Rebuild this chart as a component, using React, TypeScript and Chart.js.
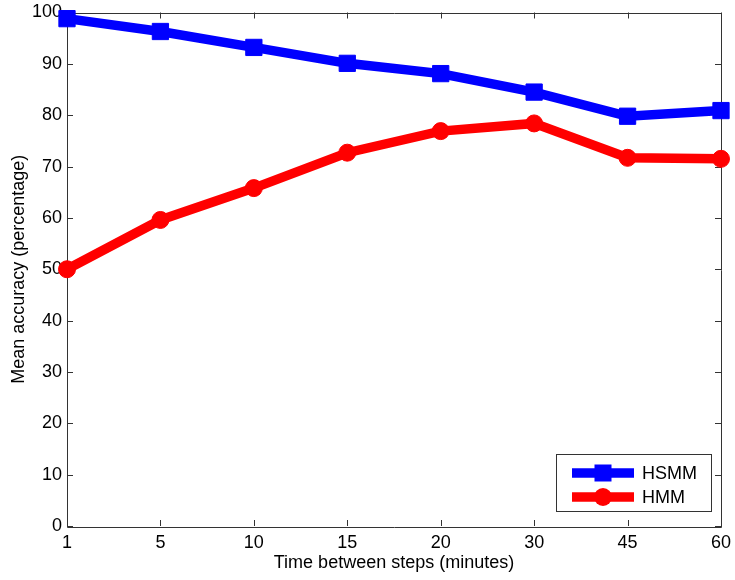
import React, { useEffect, useRef } from 'react';
import { Chart, registerables } from 'chart.js';

Chart.register(...registerables);

const categories = ['1', '5', '10', '15', '20', '30', '45', '60'];
const hsmmValues = [98.8, 96.3, 93.2, 90.1, 88.1, 84.5, 79.8, 80.9];
const hmmValues = [50.0, 59.6, 65.8, 72.7, 76.9, 78.4, 71.7, 71.5];
const seriesNames = ['HSMM', 'HMM'];
const xTitle = 'Time between steps (minutes)';
const yTitle = 'Mean accuracy (percentage)';

const FONT = "'Liberation Sans', Arial, Helvetica, sans-serif";
const AXIS = '#333333';
const BLUE = '#0000ff';
const RED = '#ff0000';

const matlabAxes = {
  id: 'matlabAxes',
  beforeDatasetsDraw(chart: any) {
    const { ctx, chartArea } = chart;
    const { left, right, top, bottom } = chartArea;
    const xs = chart.scales.x;
    const ys = chart.scales.y;
    const tl = 6;
    ctx.save();
    ctx.strokeStyle = AXIS;
    ctx.lineWidth = 1;
    ctx.beginPath();
    ctx.rect(Math.round(left) + 0.5, Math.round(top) + 0.5, Math.round(right - left), Math.round(bottom - top));
    ctx.stroke();
    ctx.beginPath();
    xs.ticks.forEach((_: any, i: number) => {
      const x = Math.round(xs.getPixelForTick(i)) + 0.5;
      ctx.moveTo(x, bottom);
      ctx.lineTo(x, bottom - tl);
      ctx.moveTo(x, top);
      ctx.lineTo(x, top + tl);
    });
    ys.ticks.forEach((_: any, i: number) => {
      const y = Math.round(ys.getPixelForTick(i)) + 0.5;
      ctx.moveTo(left, y);
      ctx.lineTo(left + tl, y);
      ctx.moveTo(right, y);
      ctx.lineTo(right - tl, y);
    });
    ctx.stroke();
    ctx.restore();
  },
};

const matlabLegend = {
  id: 'matlabLegend',
  afterDraw(chart: any) {
    const { ctx } = chart;
    const bx = 556.5, by = 454.5, bw = 155, bh = 57;
    ctx.save();
    ctx.fillStyle = '#ffffff';
    ctx.fillRect(bx, by, bw, bh);
    ctx.strokeStyle = AXIS;
    ctx.lineWidth = 1;
    ctx.strokeRect(bx, by, bw, bh);
    const rows = [473, 497];
    chart.data.datasets.forEach((ds: any, i: number) => {
      const y = rows[i];
      ctx.strokeStyle = ds.borderColor;
      ctx.lineWidth = ds.borderWidth;
      ctx.lineCap = 'butt';
      ctx.beginPath();
      ctx.moveTo(572, y);
      ctx.lineTo(634, y);
      ctx.stroke();
      ctx.fillStyle = ds.borderColor;
      if (ds.pointStyle === 'rect') {
        ctx.fillRect(603 - 8.5, y - 8.5, 17, 17);
      } else {
        ctx.beginPath();
        ctx.arc(603, y, 9, 0, Math.PI * 2);
        ctx.fill();
      }
      ctx.fillStyle = '#000000';
      ctx.font = `18px ${FONT}`;
      ctx.textBaseline = 'middle';
      ctx.textAlign = 'left';
      ctx.fillText(ds.label, 642, y + 1);
    });
    ctx.restore();
  },
};

export default function App() {
  const ref = useRef<HTMLCanvasElement>(null);
  useEffect(() => {
    if (!ref.current) return;
    const chart = new Chart(ref.current, {
      type: 'line',
      data: {
        labels: categories,
        datasets: [
          {
            label: seriesNames[0],
            data: hsmmValues,
            borderColor: BLUE,
            backgroundColor: BLUE,
            borderWidth: 9.5,
            pointStyle: 'rect',
            pointRadius: 11.5,
            pointBorderWidth: 1,
            pointBackgroundColor: BLUE,
            pointBorderColor: BLUE,
            clip: false,
            tension: 0,
            borderJoinStyle: 'miter',
          } as any,
          {
            label: seriesNames[1],
            data: hmmValues,
            borderColor: RED,
            backgroundColor: RED,
            borderWidth: 9.5,
            pointStyle: 'circle',
            pointRadius: 8.5,
            pointBorderWidth: 1,
            pointBackgroundColor: RED,
            pointBorderColor: RED,
            clip: false,
            tension: 0,
            borderJoinStyle: 'miter',
          } as any,
        ],
      },
      options: {
        responsive: false,
        animation: false,
        layout: { padding: { top: 10, right: 14, left: 0, bottom: 0 } },
        plugins: {
          legend: { display: false },
          tooltip: { enabled: false },
        },
        scales: {
          x: {
            type: 'category',
            offset: false,
            grid: { display: false, drawTicks: false },
            border: { display: false },
            ticks: {
              color: '#000',
              font: { family: FONT, size: 18 },
              padding: 6,
              maxRotation: 0,
              autoSkip: false,
            },
            title: {
              display: true,
              text: xTitle,
              color: '#000',
              font: { family: FONT, size: 18 },
              padding: { top: 0, bottom: 6 },
            },
            afterFit: (s: any) => {
              s.height = 54;
              s.paddingLeft = 0;
              s.paddingRight = 0;
            },
          },
          y: {
            type: 'linear',
            min: 0,
            max: 100,
            grid: { display: false, drawTicks: false },
            border: { display: false },
            ticks: {
              stepSize: 10,
              color: '#000',
              font: { family: FONT, size: 18 },
              padding: 5,
            },
            title: {
              display: true,
              text: yTitle,
              color: '#000',
              font: { family: FONT, size: 18 },
              padding: { top: 8, bottom: 0 },
            },
            afterFit: (s: any) => {
              s.width = 67;
              s.paddingTop = 0;
              s.paddingBottom = 0;
            },
          },
        },
      },
      plugins: [matlabAxes, matlabLegend],
    });
    return () => chart.destroy();
  }, []);
  return (
    <div style={{ position: 'fixed', left: 0, top: 0, width: 735, height: 580, background: '#fff' }}>
      <canvas ref={ref} width={735} height={580} />
    </div>
  );
}
